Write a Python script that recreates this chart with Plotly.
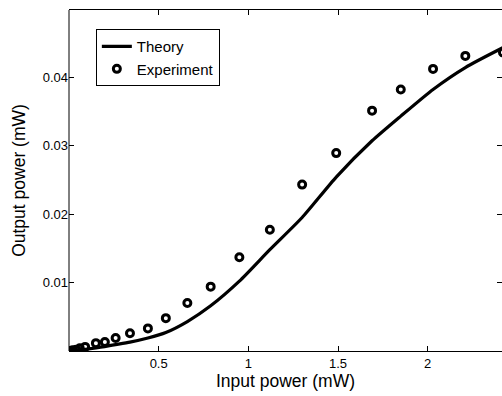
import plotly.graph_objects as go

# Experimental data (input power mW, output power mW)
exp_x = [0.0, 0.02, 0.04, 0.06, 0.09, 0.15, 0.20, 0.26, 0.34, 0.44, 0.54, 0.66,
         0.79, 0.95, 1.12, 1.30, 1.49, 1.69, 1.85, 2.03, 2.21, 2.42]
exp_y = [0.0000, 0.0001, 0.0002, 0.0004, 0.0006, 0.00115, 0.0013, 0.0019, 0.0026,
         0.0033, 0.0048, 0.0070, 0.0094, 0.0137, 0.0177, 0.0243, 0.0289, 0.0351,
         0.0382, 0.0412, 0.0431, 0.0436]

# Theory curve
th_x = [0.0, 0.08, 0.15, 0.25, 0.34, 0.44, 0.54, 0.66, 0.79, 0.95, 1.12, 1.30,
        1.49, 1.69, 1.85, 2.03, 2.21, 2.42]
th_y = [0.0, 0.0002, 0.00045, 0.0009, 0.0013, 0.0019, 0.0027, 0.0043, 0.0066,
        0.0102, 0.0148, 0.0195, 0.0254, 0.0307, 0.0343, 0.0382, 0.0414, 0.0443]

x_ticks = [0.5, 1, 1.5, 2]
x_tick_text = ["0.5", "1", "1.5", "2"]
y_ticks = [0.01, 0.02, 0.03, 0.04]
y_tick_text = ["0.01", "0.02", "0.03", "0.04"]

FONT = "Liberation Sans, Arial, sans-serif"

fig = go.Figure()
fig.add_trace(go.Scatter(x=th_x, y=th_y, mode="lines", name="Theory",
                         line=dict(color="black", width=3.2, shape="spline",
                                   smoothing=0.6)))
fig.add_trace(go.Scatter(x=exp_x, y=exp_y, mode="markers", name="Experiment",
                         marker=dict(symbol="circle-open", size=7, color="black",
                                     line=dict(color="black", width=3))))

fig.update_layout(
    width=502, height=396,
    margin=dict(l=69, r=0, t=10, b=45),
    paper_bgcolor="white", plot_bgcolor="white",
    font=dict(family=FONT, color="black", size=13),
    showlegend=True,
    legend=dict(x=0.062, y=0.944, xanchor="left", yanchor="top",
                bgcolor="white", bordercolor="black", borderwidth=1,
                font=dict(size=15, family=FONT, color="black"),
                tracegroupgap=0),
    xaxis=dict(range=[0, 2.4145], tickvals=x_ticks, ticktext=x_tick_text,
               ticks="inside", ticklen=5, tickcolor="black", showgrid=False,
               zeroline=False, showline=True, linecolor="black", linewidth=1,
               mirror="ticks",
               title=dict(text="Input power (mW)", font=dict(size=17.5), standoff=3),
               tickfont=dict(size=13)),
    yaxis=dict(range=[0, 0.0498], tickvals=y_ticks, ticktext=y_tick_text,
               ticks="inside", ticklen=5, tickcolor="black", showgrid=False,
               zeroline=False, showline=False, mirror="ticks",
               title=dict(text="Output power (mW)", font=dict(size=17.5), standoff=12),
               tickfont=dict(size=13)),
    shapes=[dict(type="line", xref="paper", yref="paper", x0=0, x1=0, y0=0, y1=1,
                 line=dict(color="black", width=1))],
)

fig.write_html("out.html")
